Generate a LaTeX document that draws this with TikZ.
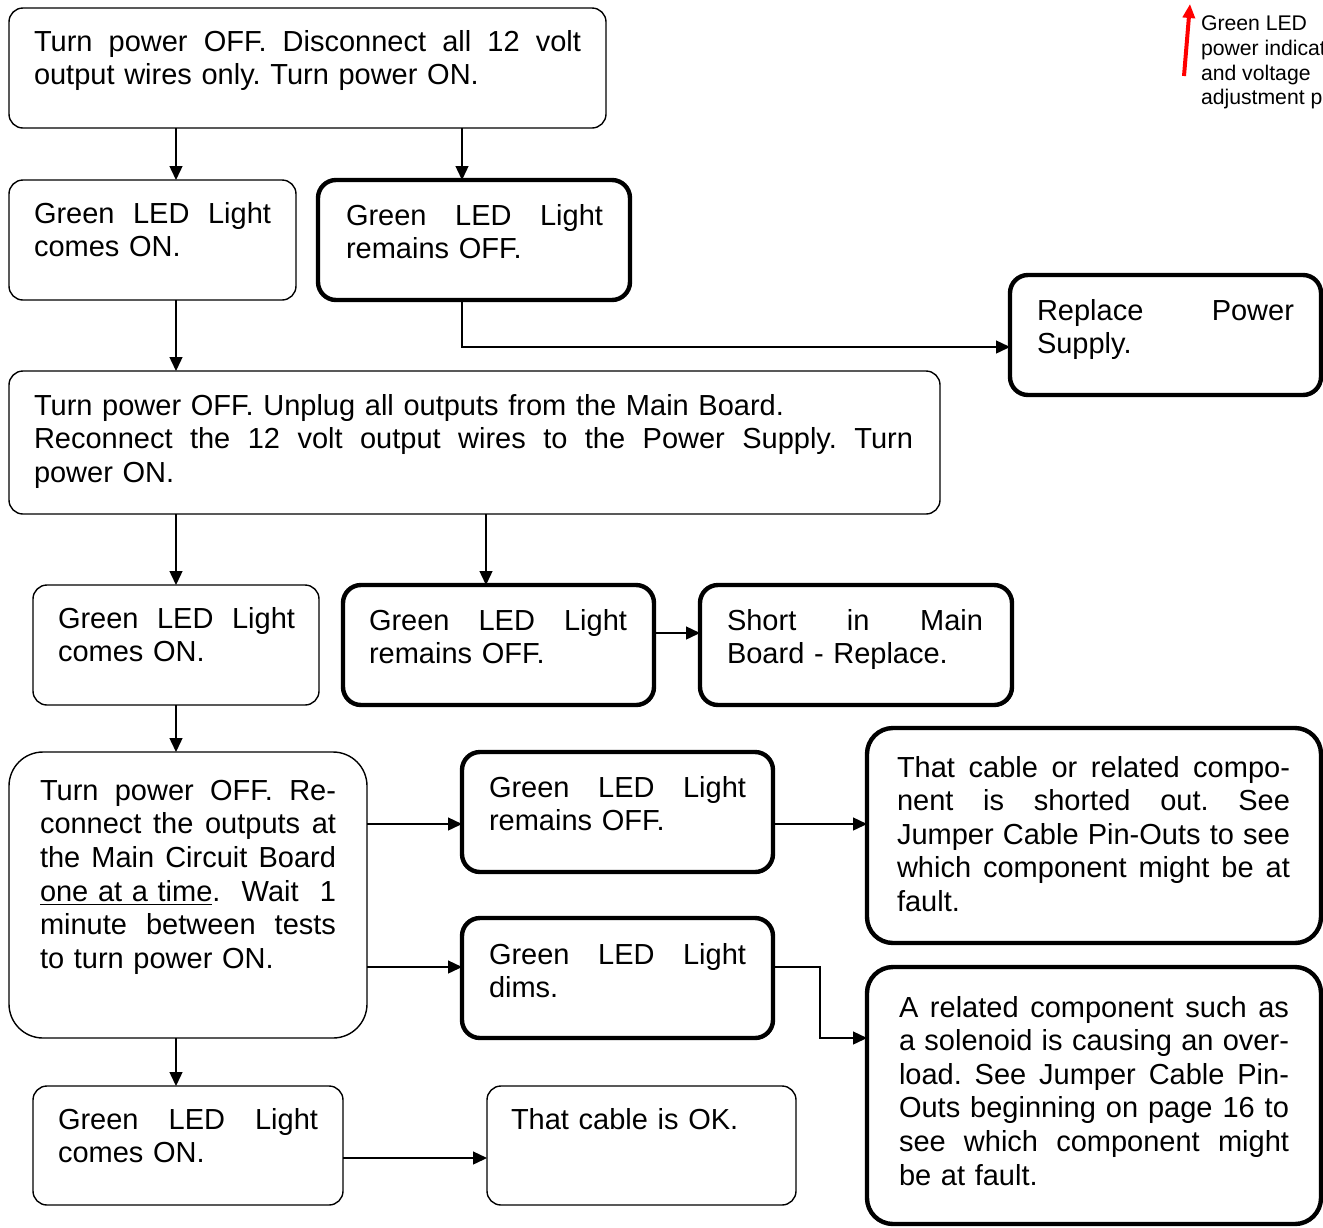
\documentclass[tikz,border=0pt]{standalone}
\usepackage{fontspec}
\setmainfont{Liberation Sans}
\usetikzlibrary{arrows.meta}
\newcommand\gap{\hfill}
\begin{document}
\frenchspacing
\begin{tikzpicture}[x=0.5pt,y=-0.5pt,
  boxthin/.style={draw, line width=0.7pt, rounded corners=7pt, inner sep=0pt, outer sep=0pt, anchor=north west},
  boxthick/.style={draw, line width=2.2pt, rounded corners=9pt, inner sep=0pt, outer sep=0pt, anchor=north west},
  txt/.style={anchor=north west, inner sep=0pt, outer sep=0pt, font=\fontsize{14.5pt}{16.8pt}\selectfont\frenchspacing},
  tw/.style={text width=#1, execute at begin node={\parindent=0pt\hbadness=10000}},
  arr/.style={line width=0.7pt, -{Triangle[length=7pt,width=6.5pt]}},
  redarr/.style={draw=red, line width=2pt, -{Triangle[length=7pt,width=6pt]}},
  redtxt/.style={anchor=north west, inner sep=0pt, outer sep=0pt, align=left, font=\fontsize{10.6pt}{12.35pt}\selectfont}
]
\useasboundingbox (0,0) rectangle (1323,1227);
\clip (0,0) rectangle (1323,1227);

% boxes
\node[boxthin, minimum width=298.5pt, minimum height=60pt] (top) at (9,8) {};
\node[boxthin, minimum width=143.5pt, minimum height=60pt] (b2) at (9,180) {};
\node[boxthick, minimum width=156pt, minimum height=60pt] (b3) at (318,180) {};
\node[boxthick, minimum width=155.5pt, minimum height=60pt] (rep) at (1010,275) {};
\node[boxthin, minimum width=465.5pt, minimum height=71.5pt] (wide) at (9,371) {};
\node[boxthin, minimum width=143pt, minimum height=60pt] (b6) at (33,585) {};
\node[boxthick, minimum width=155.5pt, minimum height=60pt] (b7) at (343,585) {};
\node[boxthick, minimum width=156pt, minimum height=60pt] (short) at (700,585) {};
\node[boxthin, rounded corners=17pt, minimum width=179pt, minimum height=143pt] (big) at (9,752) {};
\node[boxthick, minimum width=155.5pt, minimum height=60pt] (b10) at (462,752) {};
\node[boxthick, minimum width=155.5pt, minimum height=60pt] (dims) at (462,918) {};
\node[boxthick, rounded corners=13pt, minimum width=227pt, minimum height=107.5pt] (b12) at (867,728) {};
\node[boxthick, rounded corners=13pt, minimum width=227pt, minimum height=128.5pt] (b13) at (867,967) {};
\node[boxthin, minimum width=155pt, minimum height=59.5pt] (b14) at (33,1086) {};
\node[boxthin, minimum width=154.5pt, minimum height=59.5pt] (b15) at (487,1086) {};

% texts
\node[txt, tw=273.5pt] (topT) at (34,30) {Turn\gap power\gap OFF.\gap Disconnect\gap all\gap 12\gap volt\\output wires only. Turn power ON.};
\node[txt, tw=118.5pt] (b2T) at (34,202) {Green\gap LED\gap Light\\comes ON.};
\node[txt, tw=128.5pt] (b3T) at (346,204) {Green\gap LED\gap Light\\remains OFF.};
\node[txt, tw=128.5pt] (repT) at (1037,299) {Replace\gap Power\\Supply.};
\node[txt, tw=439.5pt] (wideT) at (34,394) {Turn power OFF. Unplug all outputs from the Main Board.\\Reconnect\gap the\gap 12\gap volt\gap output\gap wires\gap to\gap the\gap Power\gap Supply.\gap Turn\\power ON.};
\node[txt, tw=118.5pt] (b6T) at (58,607) {Green\gap LED\gap Light\\comes ON.};
\node[txt, tw=129pt] (b7T) at (369,609) {Green\gap LED\gap Light\\remains OFF.};
\node[txt, tw=128pt] (shortT) at (727,609) {Short\gap in\gap Main\\Board - Replace.};
\node[txt, tw=148pt] (bigT) at (40,780) {Turn\gap power\gap OFF.\gap Re-\\connect\gap the\gap outputs\gap at\\the\gap Main\gap Circuit\gap Board\\\underline{one at a time}.\gap Wait\gap 1\\minute\gap between\gap tests\\to turn power ON.};
\node[txt, tw=128.5pt] (b10T) at (489,776) {Green\gap LED\gap Light\\remains OFF.};
\node[txt, tw=128.5pt] (dimsT) at (489,943) {Green\gap LED\gap Light\\dims.};
\node[txt, tw=196.5pt] (b12T) at (897,756) {That\gap cable\gap or\gap related\gap compo-\\nent\gap is\gap shorted\gap out.\gap See\\Jumper\gap Cable\gap Pin-Outs\gap to\gap see\\which\gap component\gap might\gap be\gap at\\fault.};
\node[txt, tw=195pt] (b13T) at (899,996) {A\gap related\gap component\gap such\gap as\\a\gap solenoid\gap is\gap causing\gap an\gap over-\\load.\gap See\gap Jumper\gap Cable\gap Pin-\\Outs\gap beginning\gap on\gap page\gap 16\gap to\\see\gap which\gap component\gap might\\be at fault.};
\node[txt, tw=130pt] (b14T) at (58,1108) {Green\gap LED\gap Light\\comes ON.};
\node[txt, tw=130pt] (b15T) at (511,1108) {That cable is OK.};

% red note
\coordinate (rs) at (1184,76);
\coordinate (re) at (1190,4);
\draw[redarr] (rs) -- (re);
\node[redtxt] (note) at (1201,16) {Green LED\\power indicat\\and voltage\\adjustment p};

% connectors
\draw[arr] (top.south -| 176,0) -- (b2.north -| 176,0);
\draw[arr] (top.south -| 462,0) -- (b3.north -| 462,0);
\draw[arr] (b3.south -| 462,0) |- (rep.west |- 0,347);
\draw[arr] (b2.south -| 176,0) -- (wide.north -| 176,0);
\draw[arr] (wide.south -| 176,0) -- (b6.north -| 176,0);
\draw[arr] (wide.south -| 486,0) -- (b7.north -| 486,0);
\draw[arr] (b7.east |- 0,633) -- (short.west |- 0,633);
\draw[arr] (b6.south -| 176,0) -- (big.north -| 176,0);
\draw[arr] (big.east |- 0,824) -- (b10.west |- 0,824);
\draw[arr] (b10.east |- 0,824) -- (b12.west |- 0,824);
\draw[arr] (big.east |- 0,967) -- (dims.west |- 0,967);
\draw[arr] (dims.east |- 0,967) -- (820,967) -- (820,1038) -- (b13.west |- 0,1038);
\draw[arr] (big.south -| 176,0) -- (b14.north -| 176,0);
\draw[arr] (b14.east |- 0,1158) -- (b15.west |- 0,1158);
\end{tikzpicture}
\end{document}
